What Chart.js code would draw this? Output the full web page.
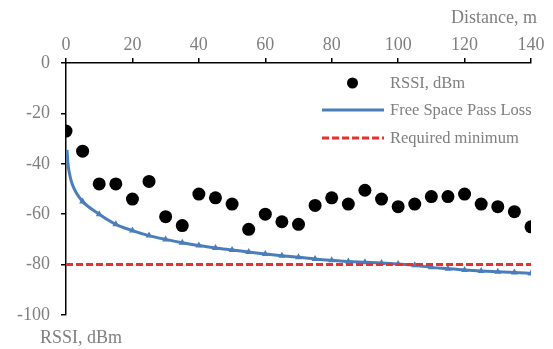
<!DOCTYPE html>
<html>
<head>
<meta charset="utf-8">
<script src="https://cdn.jsdelivr.net/npm/chart.js@4"></script>
<style>
  body { margin: 0; background: #fff; }
  canvas { display: block; }
</style>
</head>
<body>
<canvas id="myChart" width="553" height="349"></canvas>
<script>
// Data
const distances = [0, 5, 10, 15, 20, 25, 30, 35, 40, 45, 50, 55, 60, 65, 70,
  75, 80, 85, 90, 95, 100, 105, 110, 115, 120, 125, 130, 135, 140];
const rssi = [-27, -35, -48, -48, -54, -47, -61, -64.5, -52, -53.5, -56, -66, -60, -63, -64,
  -56.5, -53.5, -56, -50.5, -54, -57, -56, -53, -53, -52, -56, -57, -59, -65];

const fsplDistances = [0.3, 0.6, 1, 1.5, 2, 3, 4, 5, 10, 15, 20, 25, 30, 35, 40, 45, 50, 55, 60, 65, 70,
  75, 80, 85, 90, 95, 100, 105, 110, 115, 120, 125, 130, 135, 140];
const fspl = [-34.5, -40, -43.5, -46.5, -48.5, -51.3, -53.3, -55, -60, -64, -66.5, -68.5, -70, -71.3, -72.4, -73.4, -74.2,
  -75, -75.8, -76.5, -77.1, -77.8, -78.3, -78.8, -79.1, -79.4, -79.8, -80.3, -81.1, -81.6,
  -82.1, -82.5, -82.8, -83.1, -83.5];

const requiredDistances = [0, 140];
const requiredMin = [-80, -80];

const xTicks = [0, 20, 40, 60, 80, 100, 120, 140];
const yTicks = [0, -20, -40, -60, -80, -100];

const legendLabels = ['RSSI, dBm', 'Free Space Pass Loss', 'Required minimum'];

const GRAY = '#7f7f7f';
const BLUE = '#4a7ebb';
const RED = '#e8312f';
const FONT = 'Liberation Serif';

const toPoints = (xs, ys) => xs.map((x, i) => ({ x: x, y: ys[i] }));

// legend and axis titles drawn by hand (Excel-like placement)
const extras = {
  id: 'extras',
  afterDraw(chart) {
    const ctx = chart.ctx;
    ctx.save();
    ctx.font = '16.5px "' + FONT + '"';
    ctx.textBaseline = 'middle';
    ctx.textAlign = 'left';
    const rows = [83, 110, 138];
    const x0 = 322, x1 = 384, tx = 390;

    ctx.beginPath();
    ctx.fillStyle = '#000';
    ctx.arc((x0 + x1) / 2 - 0.5, rows[0], 5.5, 0, Math.PI * 2);
    ctx.fill();

    ctx.lineWidth = 3;
    ctx.strokeStyle = BLUE;
    ctx.beginPath();
    ctx.moveTo(x0, rows[1]);
    ctx.lineTo(x1, rows[1]);
    ctx.stroke();

    ctx.strokeStyle = RED;
    ctx.setLineDash([7, 3]);
    ctx.beginPath();
    ctx.moveTo(x0, rows[2]);
    ctx.lineTo(x1, rows[2]);
    ctx.stroke();
    ctx.setLineDash([]);

    ctx.fillStyle = GRAY;
    legendLabels.forEach((t, i) => ctx.fillText(t, tx, rows[i] + 1));

    ctx.font = '18px "' + FONT + '"';
    ctx.fillText('RSSI, dBm', 40, 338);
    ctx.textAlign = 'right';
    ctx.fillText('Distance, m', 537, 18);
    ctx.restore();
  }
};

const data = {
  datasets: [
    {
      label: legendLabels[0],
      data: toPoints(distances, rssi),
      showLine: false,
      pointRadius: 6.5,
      pointBackgroundColor: '#000',
      pointBorderColor: '#000',
      pointBorderWidth: 0,
    },
    {
      label: legendLabels[2],
      data: toPoints(requiredDistances, requiredMin),
      showLine: true,
      borderColor: RED,
      borderWidth: 3,
      borderDash: [7, 3],
      pointRadius: 0,
    },
    {
      label: legendLabels[1],
      data: toPoints(fsplDistances, fspl),
      showLine: true,
      borderColor: BLUE,
      borderWidth: 3,
      cubicInterpolationMode: 'monotone',
      pointStyle: 'triangle',
      pointRadius: fsplDistances.map(d => (d >= 5 ? 4 : 0)),
      pointBackgroundColor: BLUE,
      pointBorderColor: BLUE,
      pointBorderWidth: 0,
    },
  ],
};

const config = {
  type: 'scatter',
  data: data,
  options: {
    responsive: false,
    animation: false,
    layout: { padding: { top: 0, right: 22, bottom: 34, left: 0 } },
    plugins: {
      legend: { display: false },
      tooltip: { enabled: false },
    },
    scales: {
      x: {
        type: 'linear',
        position: 'top',
        min: 0,
        max: 140,
        afterBuildTicks(scale) {
          scale.ticks = xTicks.map(v => ({ value: v }));
        },
        afterFit(scale) { scale.height = 63; },
        ticks: {
          color: GRAY,
          font: { family: FONT, size: 18 },
          padding: 2,
        },
        grid: {
          drawOnChartArea: false,
          drawTicks: true,
          tickLength: 5,
          color: '#000',
          lineWidth: 1.5,
        },
        border: { color: '#000', width: 1.5 },
      },
      y: {
        type: 'linear',
        min: -100,
        max: 0,
        afterBuildTicks(scale) {
          scale.ticks = yTicks.map(v => ({ value: v }));
        },
        afterFit(scale) { scale.width = 66; },
        ticks: {
          color: GRAY,
          font: { family: FONT, size: 18 },
          padding: 11,
        },
        grid: {
          drawOnChartArea: false,
          drawTicks: true,
          tickLength: 5,
          color: '#000',
          lineWidth: 1.5,
        },
        border: { color: '#000', width: 1.5 },
      },
    },
  },
  plugins: [extras],
};

const myChart = new Chart(document.getElementById('myChart'), config);
</script>
</body>
</html>
